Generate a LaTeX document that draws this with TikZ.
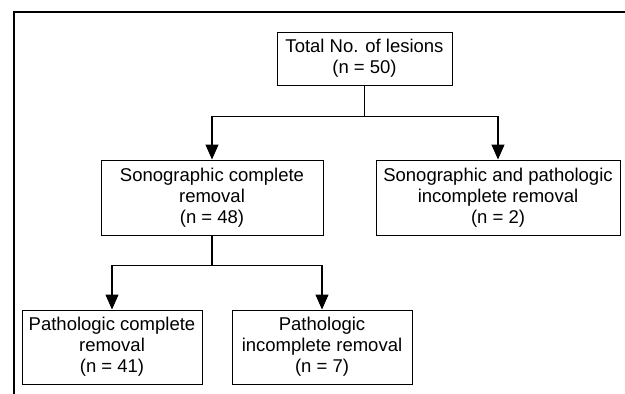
\documentclass[tikz,border=0pt]{standalone}
\usepackage{fontspec}
\setmainfont{Liberation Sans}
\usepackage{tikz}
\usetikzlibrary{arrows.meta}
\tikzset{box/.style={draw=black, line width=1pt, align=center, inner sep=2pt, font=\fontsize{18.5}{21}\selectfont}}
\tikzset{link/.style={black, line width=1.1pt, -{Triangle[length=15pt,width=13pt]}}}

\begin{document}
\begin{tikzpicture}[x=1pt,y=-1pt]
\useasboundingbox (0,0) rectangle (625,394);
\draw[black, line width=1.2pt] (14,394)--(14,12)--(625,12);
\node[box, minimum width=175pt, minimum height=53pt] (total) at (364.5,58.5) {Total No. of lesions\\(n = 50)};
\node[box, minimum width=222pt, minimum height=75pt] (sono) at (212,197.5) {Sonographic complete\\removal\\(n = 48)};
\node[box, minimum width=244pt, minimum height=75pt] (incomp) at (498,197.5) {Sonographic and pathologic\\incomplete removal\\(n = 2)};
\node[box, minimum width=180pt, minimum height=74pt] (pathc) at (112,347) {Pathologic complete\\removal\\(n = 41)};
\node[box, minimum width=180pt, minimum height=74pt] (pathi) at (322,347) {Pathologic\\incomplete removal\\(n = 7)};
\draw[link] (total.south) --++(0,31) -| (sono.north);
\draw[link] (total.south) --++(0,31) -| (incomp.north);
\draw[link] (sono.south) --++(0,30) -| (pathc.north);
\draw[link] (sono.south) --++(0,30) -| (pathi.north);
\end{tikzpicture}
\end{document}
